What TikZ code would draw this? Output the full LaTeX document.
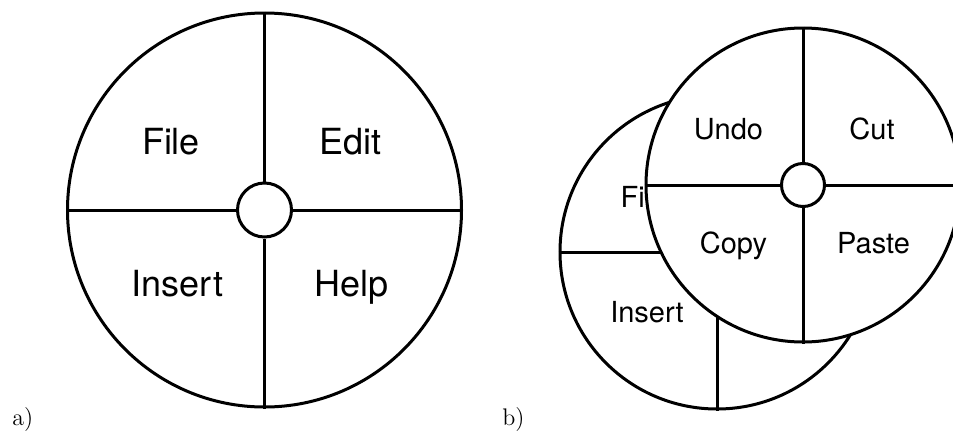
\documentclass[tikz,border=0pt]{standalone}
\usepackage{fontspec}
\setsansfont{TeX Gyre Heros}
\tikzset{
  pie/.style={draw, circle, line width=1.5pt, fill=white, inner sep=0pt},
  hub/.style={draw, circle, line width=1.5pt, fill=white, inner sep=0pt},
  spoke/.style={line width=1.5pt},
  biglabel/.style={anchor=base, font=\sffamily\fontsize{18}{21}\selectfont},
  smalllabel/.style={anchor=base, font=\sffamily\fontsize{14.5}{17}\selectfont},
  tag/.style={anchor=base west, inner sep=0pt, font=\fontsize{12}{14}\selectfont}
}

\begin{document}
\begin{tikzpicture}[x=0.5pt, y=-0.5pt]
    \useasboundingbox (0,0) rectangle (953,434);
    \clip (0,0) rectangle (953,434);

    % a) single menu
    \node[pie, minimum size=197pt] (menuA) at (264.5,210) {};
    \node[hub, minimum size=27pt] (hubA) at (menuA.center) {};
    \draw[spoke] (menuA.north) -- (hubA.north);
    \draw[spoke] (menuA.south) -- (hubA.south);
    \draw[spoke] (menuA.west) -- (hubA.west);
    \draw[spoke] (menuA.east) -- (hubA.east);
    \node[biglabel] (file) at (171,154) {File};
    \node[biglabel] (edit) at (350.5,154) {Edit};
    \node[biglabel] (insert) at (177.5,296) {Insert};
    \node[biglabel] (help) at (351.5,296) {Help};
    \node[tag] (tagA) at (12,425) {a)};

    % b) back menu, covered by the sub menu
    \node[pie, minimum size=157pt] (menuB) at (717,252) {};
    \node[hub, minimum size=21.5pt] (hubB) at (menuB.center) {};
    \draw[spoke] (menuB.south) -- (hubB.south);
    \draw[spoke] (menuB.west) -- (hubB.west);
    \node[smalllabel] (fileB) at (644,207) {File};
    \node[smalllabel] (insertB) at (647,322) {Insert};

    % b) sub menu on top
    \node[pie, minimum size=157pt] (menuC) at (803,185) {};
    \node[hub, minimum size=21.5pt] (hubC) at (menuC.center) {};
    \draw[spoke] (menuC.north) -- (hubC.north);
    \draw[spoke] (menuC.south) -- (hubC.south);
    \draw[spoke] (menuC.west) -- (hubC.west);
    \draw[spoke] (menuC.east) -- (hubC.east);
    \node[smalllabel] (undo) at (728.5,139) {Undo};
    \node[smalllabel] (cut) at (872,139) {Cut};
    \node[smalllabel] (copy) at (733.5,253) {Copy};
    \node[smalllabel] (paste) at (873.5,253) {Paste};
    \node[tag] (tagB) at (502,425) {b)};

\end{tikzpicture}
\end{document}
